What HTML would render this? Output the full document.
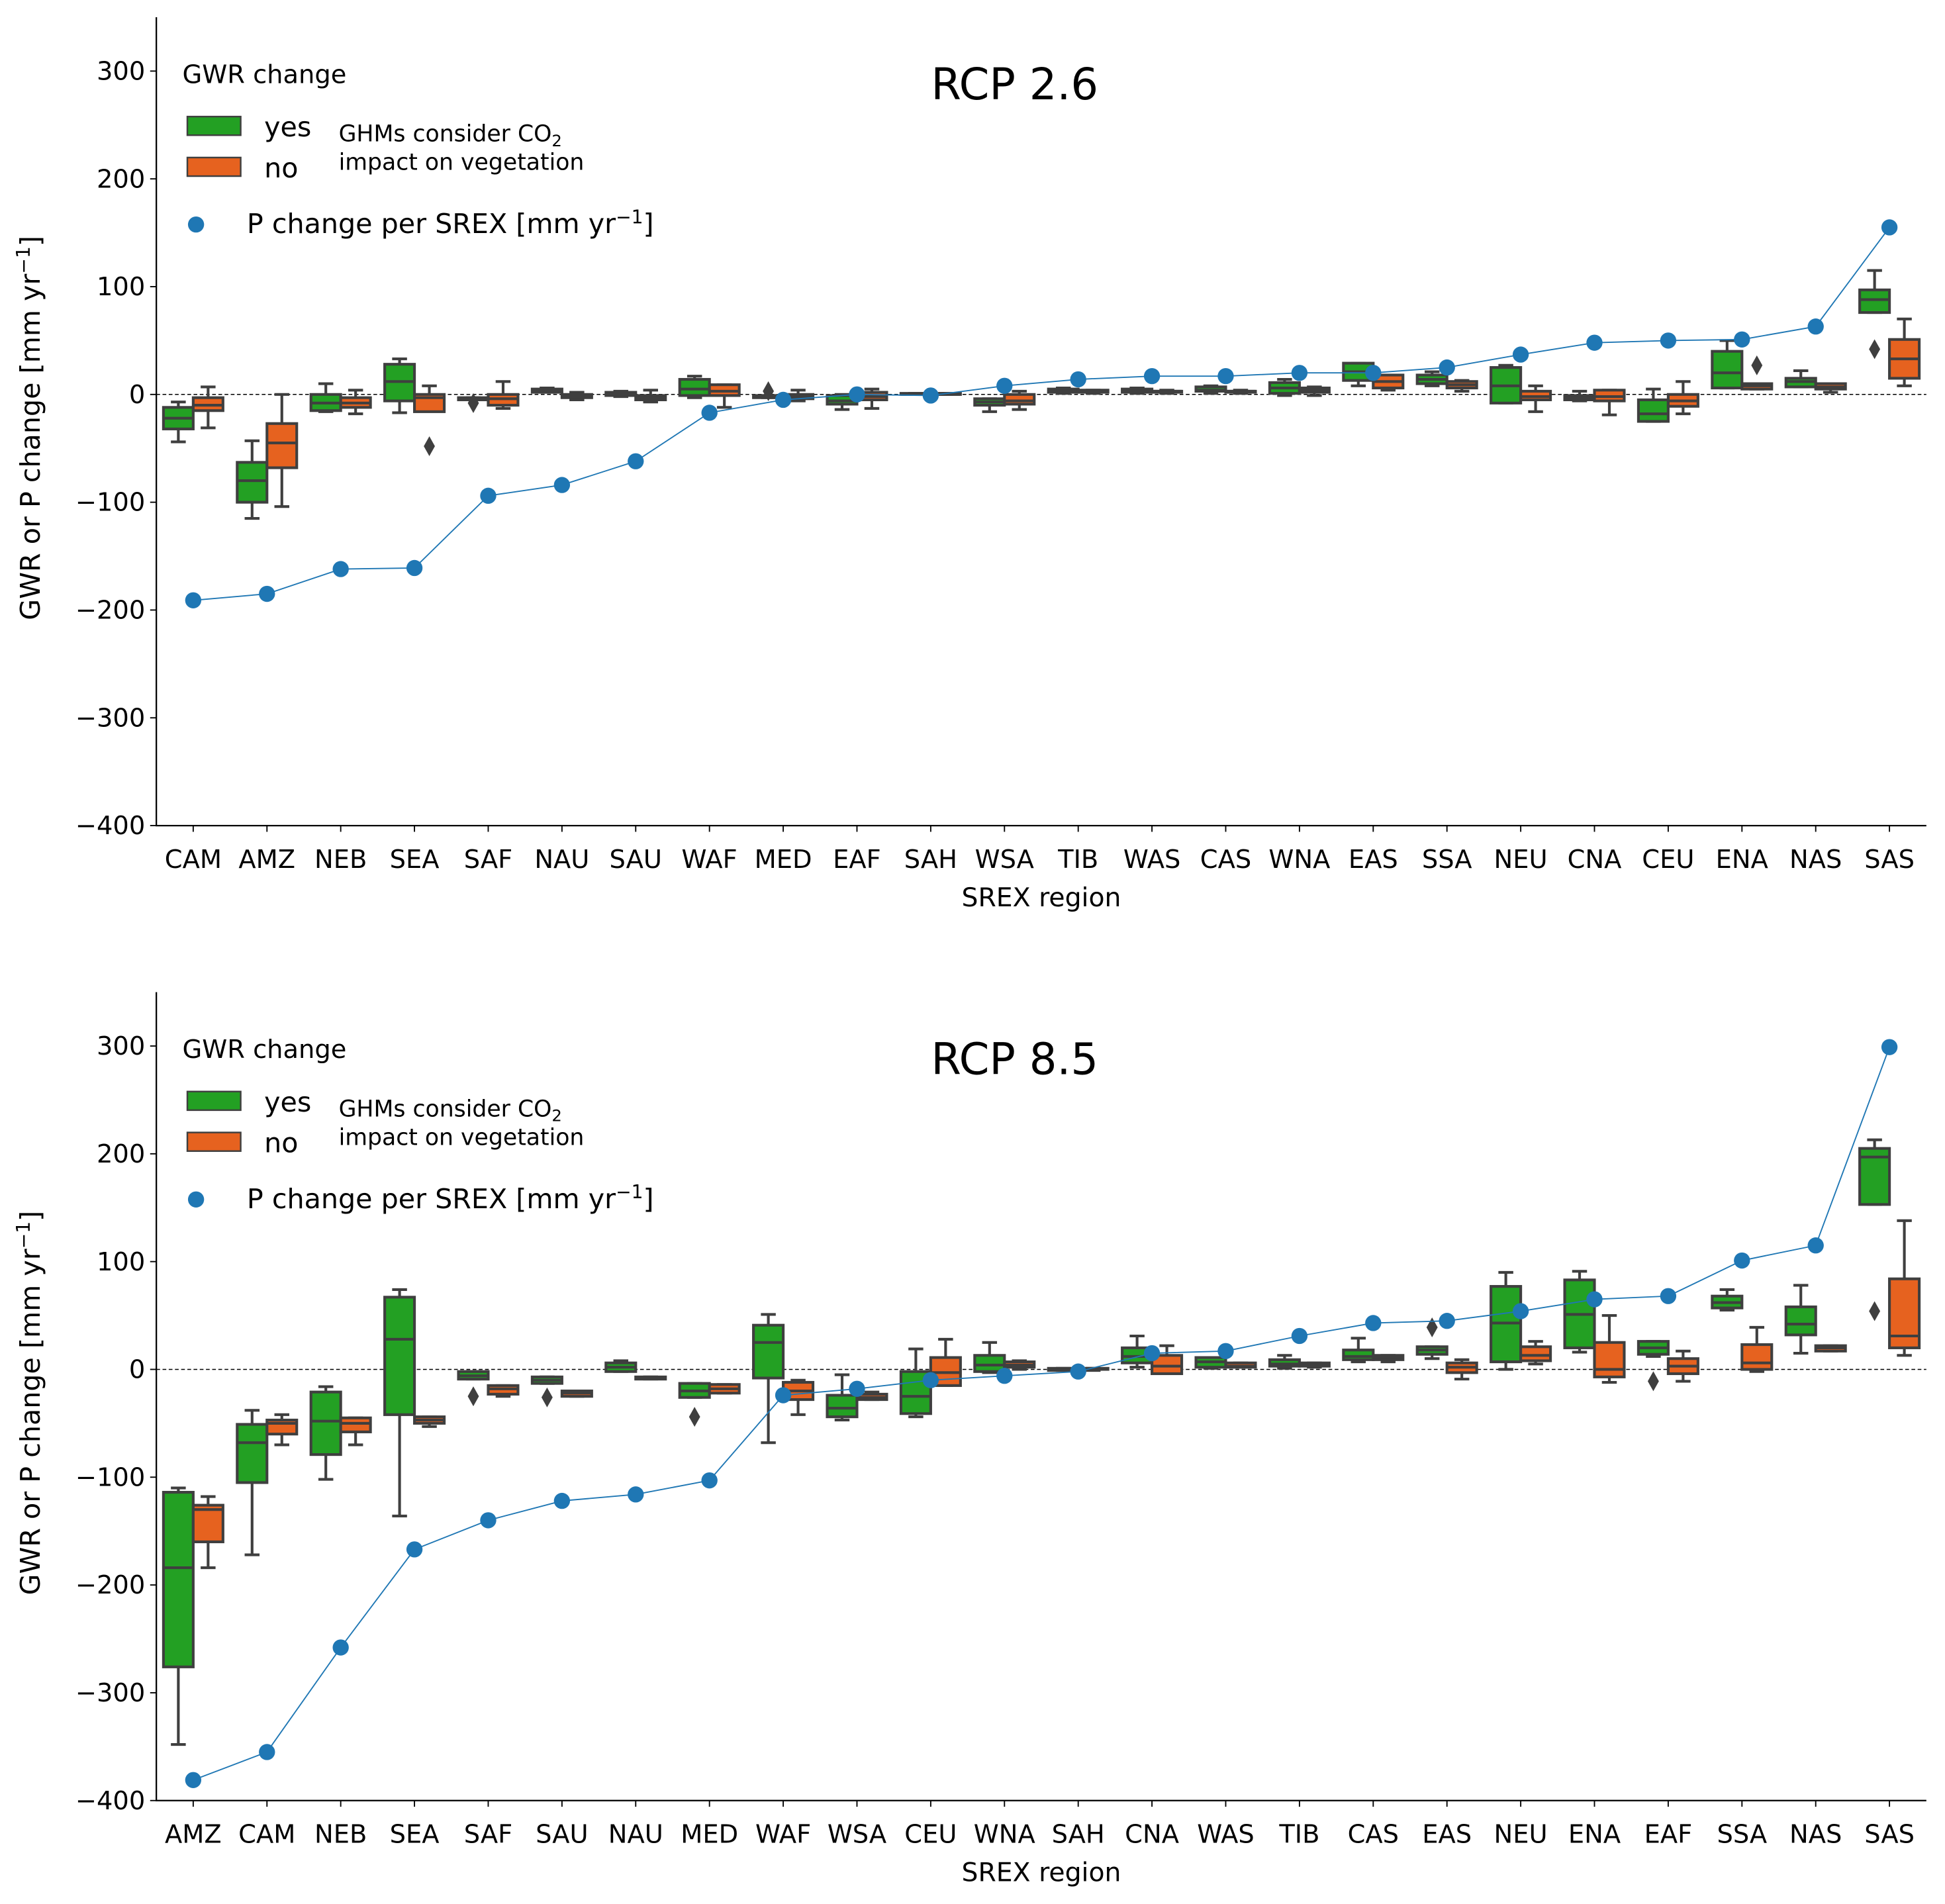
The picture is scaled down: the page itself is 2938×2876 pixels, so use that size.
<!DOCTYPE html>
<html><head><meta charset="utf-8"><style>
html,body{margin:0;padding:0;background:#fff}
svg{display:block}
text{font-family:"DejaVu Sans","Liberation Sans",sans-serif;fill:#000}
</style></head><body>
<svg id="chart" width="2938" height="2876" viewBox="0 0 1568 1535" xmlns="http://www.w3.org/2000/svg"></svg>
<script>
// ---- data: RCP 2.6 ----
const cats26 = ["CAM","AMZ","NEB","SEA","SAF","NAU","SAU","WAF","MED","EAF","SAH","WSA","TIB","WAS","CAS","WNA","EAS","SSA","NEU","CNA","CEU","ENA","NAS","SAS"];
const p26 = [-191,-185,-162,-161,-94,-84,-62,-17,-5,0,-1,8,14,17,17,20,20,25,37,48,50,51,63,155];
const green26 = [[-44,-32,-22,-12,-7],[-115,-100,-80,-63,-43],[-16,-15,-8,0,10],[-17,-6,12,28,33],[-5,-5,-4,-3,-3],[2,2,4,5,6],[-2,-1,0,2,3],[-3,-1,5,14,17],[-3,-3,-2,-1,-1],[-14,-9,-6,-1,0],[0,0,0,1,1],[-16,-10,-7,-4,-4],[1,2,3,5,6],[1,2,3,5,6],[1,3,4,7,8],[-1,1,6,11,14],[8,13,21,29,29],[8,10,14,18,21],[-8,-8,8,25,27],[-6,-5,-3,-1,3],[-25,-25,-18,-5,5],[6,6,20,40,50],[7,7,12,15,22],[76,76,88,97,115]];
const orange26 = [[-31,-15,-10,-3,7],[-104,-68,-45,-27,0],[-18,-12,-8,-3,4],[-14,-16,-3,0,8],[-13,-10,-4,0,12],[-5,-3,-2,0,2],[-7,-5,-3,-1,4],[-12,-1,3,9,9],[-6,-4,-2,0,4],[-13,-5,-2,2,5],[0,0,0,1,1],[-14,-9,-6,0,3],[1,2,3,4,4],[1,2,3,3,4],[1,2,3,3,4],[-1,2,4,6,7],[4,6,12,18,18],[3,6,9,12,13],[-16,-5,-2,3,8],[-19,-6,-2,4,4],[-18,-11,-6,0,12],[5,5,8,10,10],[2,5,7,10,10],[8,15,33,51,70]];
const gOut26 = [null,null,null,null,-8,null,null,null,3,null,null,null,null,null,null,null,null,null,null,null,null,null,null,42];
const oOut26 = [null,null,null,-48,null,null,null,null,null,null,null,null,null,null,null,null,null,null,null,null,null,27,null,null];
// ---- data: RCP 8.5 ----
const cats85 = ["AMZ","CAM","NEB","SEA","SAF","SAU","NAU","MED","WAF","WSA","CEU","WNA","SAH","CNA","WAS","TIB","CAS","EAS","NEU","ENA","EAF","SSA","NAS","SAS"];
const p85 = [-381,-355,-258,-167,-140,-122,-116,-103,-24,-18,-10,-6,-2,15,17,31,43,45,54,65,68,101,115,299];
const green85 = [[-348,-276,-184,-114,-110],[-172,-105,-68,-51,-38],[-102,-79,-48,-21,-16],[-136,-42,28,67,74],[-9,-9,-6,-2,-2],[-13,-13,-10,-7,-7],[-2,-2,2,6,8],[-26,-26,-20,-13,-13],[-68,-8,25,41,51],[-47,-44,-36,-24,-5],[-44,-41,-25,-2,19],[-3,-2,4,13,25],[-1,-1,0,1,1],[2,6,12,20,31],[1,2,7,11,11],[1,3,5,9,13],[7,9,12,18,29],[10,14,18,21,21],[0,7,43,77,90],[16,20,51,83,91],[12,14,20,26,26],[55,57,62,68,74],[15,32,42,58,78],[153,153,197,205,213]];
const orange85 = [[-184,-160,-130,-126,-118],[-70,-60,-50,-47,-42],[-70,-58,-50,-45,-45],[-53,-50,-47,-44,-44],[-25,-23,-18,-15,-15],[-25,-25,-22,-20,-20],[-9,-9,-8,-7,-7],[-22,-22,-18,-14,-14],[-42,-28,-20,-12,-10],[-28,-28,-26,-23,-21],[-15,-15,-3,11,28],[0,2,4,7,8],[-1,0,0,1,1],[-4,-4,3,13,22],[2,2,3,6,6],[2,3,4,6,6],[7,9,11,13,13],[-9,-3,2,6,9],[5,8,13,21,26],[-12,-7,0,25,50],[-11,-4,3,10,17],[-2,0,6,23,39],[17,17,20,22,22],[13,20,31,84,138]];
const gOut85 = [null,null,null,null,-25,-26,null,-44,null,null,null,null,null,null,null,null,null,39,null,null,-11,null,null,54];
const oOut85 = [null,null,null,null,null,null,null,null,null,null,null,null,null,null,null,null,null,null,null,null,null,null,null,null];
const yTicks = [-400,-300,-200,-100,0,100,200,300];

const svg = document.getElementById('chart');
const NS = 'http://www.w3.org/2000/svg';
function mk(tag, attrs, parent, txt){
  const e = document.createElementNS(NS, tag);
  for (const k in attrs) e.setAttribute(k, attrs[k]);
  if (txt !== undefined) e.textContent = txt;
  (parent||svg).appendChild(e);
  return e;
}
const X0 = 126, X1 = 1553, PXU = 0.869;
const TF = 20.5;

function panel(off, title, cats, pv, gr, or, gOut, oOut, key){
  const g = mk('g', {});
  
  
  const y0 = 318 + off;
  const ys = v => y0 - v * PXU;
  const band = (X1 - X0) / cats.length;
  const xc = i => X0 + band * (i + 0.5);
  const zl = mk('line', {x1:X0, x2:X1, y1:ys(0), y2:ys(0), stroke:'#000', 'stroke-width':0.8, 'stroke-dasharray':'3,2'}, g);
  
  
  const ax = mk('path', {d:`M${X0},${ys(350)}V${ys(-400)}H${X1}`, fill:'none', stroke:'#000', 'stroke-width':1.2}, g);
  
  
  yTicks.forEach(t => {
    mk('line', {x1:X0-5, x2:X0, y1:ys(t), y2:ys(t), stroke:'#000', 'stroke-width':1}, g);
    const tl = mk('text', {x:X0-9, y:ys(t)+7, 'text-anchor':'end', 'font-size':TF}, g, t < 0 ? '\u2212' + (-t) : String(t));
    
    
  });
  cats.forEach((c, i) => {
    mk('line', {x1:xc(i), x2:xc(i), y1:ys(-400), y2:ys(-400)+5, stroke:'#000', 'stroke-width':1}, g);
    const tl = mk('text', {x:xc(i), y:ys(-400)+34, 'text-anchor':'middle', 'font-size':TF}, g, c);
    
    
  });
  const xl = mk('text', {x:(X0+X1)/2, y:ys(-400)+65, 'text-anchor':'middle', 'font-size':21}, g, 'SREX region');
  
  
  const yl = mk('text', {x:0, y:0, 'text-anchor':'middle', 'font-size':22, transform:`translate(32,${y0+27}) rotate(-90)`}, g);
  
  
  yl.innerHTML = 'GWR or P change [mm yr<tspan dy="-8" font-size="15">\u22121</tspan><tspan dy="8">]</tspan>';
  const bw = 24;
  function box(d, cx, fill, out, name){
    const bg = mk('g', {}, g);
    
    
    const st = {stroke:'#3f3f3f', 'stroke-width':2.2, fill:'none'};
    const lo = Math.min(d[1], d[3]), hi = Math.max(d[1], d[3]);
    mk('line', Object.assign({x1:cx, x2:cx, y1:ys(d[0]), y2:ys(lo)}, st), bg);
    mk('line', Object.assign({x1:cx, x2:cx, y1:ys(hi), y2:ys(d[4])}, st), bg);
    mk('line', Object.assign({x1:cx-6, x2:cx+6, y1:ys(d[0]), y2:ys(d[0])}, st), bg);
    mk('line', Object.assign({x1:cx-6, x2:cx+6, y1:ys(d[4]), y2:ys(d[4])}, st), bg);
    mk('rect', {x:cx-bw/2, y:ys(hi), width:bw, height:Math.max(ys(lo)-ys(hi),0.5), fill:fill, stroke:'#3f3f3f', 'stroke-width':2.2}, bg);
    mk('line', Object.assign({x1:cx-bw/2, x2:cx+bw/2, y1:ys(d[2]), y2:ys(d[2])}, st), bg);
    if (out !== null) {
      const oy = ys(out);
      mk('path', {d:`M${cx},${oy-8}L${cx+4.5},${oy}L${cx},${oy+8}L${cx-4.5},${oy}Z`, fill:'#3f3f3f'}, bg);
    }
  }
  cats.forEach((c, i) => {
    box(gr[i], xc(i) - 12, '#23a023', gOut[i], 'box-yes-' + c);
    box(or[i], xc(i) + 12, '#e6621f', oOut[i], 'box-no-' + c);
  });
  const pts = pv.map((v, i) => `${xc(i)},${ys(v)}`).join(' ');
  const pl = mk('polyline', {points:pts, fill:'none', stroke:'#1f77b4', 'stroke-width':1}, g);
  
  
  pv.forEach((v, i) => {
    const c = mk('circle', {cx:xc(i), cy:ys(v), r:6.5, fill:'#1f77b4'}, g);
    
    
  });
  const tt = mk('text', {x:818, y:80+off, 'text-anchor':'middle', 'font-size':35}, g, title);
  
  
  const lg = mk('g', {}, g);
  
  
  mk('text', {x:147, y:67+off, 'font-size':20.5}, lg, 'GWR change');
  const ly = mk('rect', {x:151, y:94+off, width:43, height:15, fill:'#23a023', stroke:'#3f3f3f', 'stroke-width':1.3}, lg);
  
  
  mk('text', {x:213, y:110+off, 'font-size':22}, lg, 'yes');
  const ln = mk('rect', {x:151, y:127+off, width:43, height:15, fill:'#e6621f', stroke:'#3f3f3f', 'stroke-width':1.3}, lg);
  
  
  mk('text', {x:213, y:143+off, 'font-size':22}, lg, 'no');
  const gh = mk('text', {x:273, y:114+off, 'font-size':18.5}, lg);
  gh.innerHTML = 'GHMs consider CO<tspan dy="4" font-size="13">2</tspan>';
  mk('text', {x:273, y:137+off, 'font-size':18.5}, lg, 'impact on vegetation');
  const lp = mk('circle', {cx:158, cy:181+off, r:6.5, fill:'#1f77b4'}, lg);
  
  
  const pt = mk('text', {x:199, y:188+off, 'font-size':22}, lg);
  pt.innerHTML = 'P change per SREX [mm yr<tspan dy="-8" font-size="15">\u22121</tspan><tspan dy="8">]</tspan>';
}
panel(0, 'RCP 2.6', cats26, p26, green26, orange26, gOut26, oOut26, 'rcp26');
panel(786, 'RCP 8.5', cats85, p85, green85, orange85, gOut85, oOut85, 'rcp85');
</script>
</body></html>
